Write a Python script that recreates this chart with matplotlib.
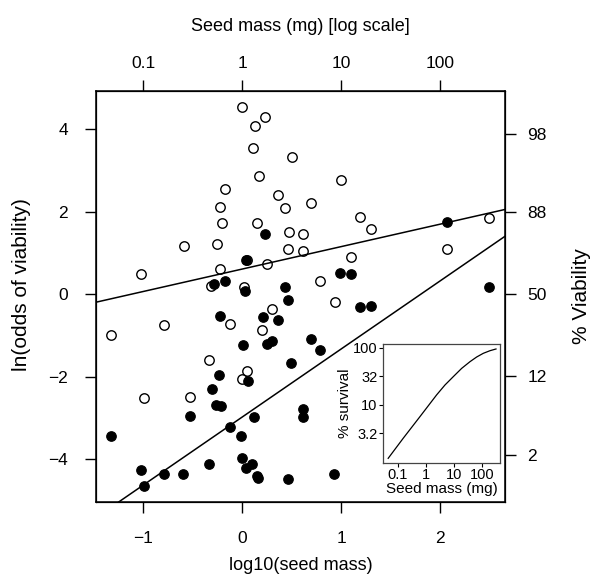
import numpy as np
import matplotlib
matplotlib.use("Agg")
import matplotlib.pyplot as plt

plt.rcParams['font.family'] = ['Liberation Sans', 'DejaVu Sans']

# ---- data ----
open_x = [-0.006, 0.23, 0.125, 0.105, 0.50, 0.17, -0.17, 0.36, -0.225, 0.43, 0.70, 1.00,
          -0.205, 0.155, -0.59, -0.25, 0.47, 0.62, 0.46, 0.62, 0.05, 0.25, -1.02, -0.22,
          -0.32, 0.017, 0.785, 0.94, 0.30, 1.196, 1.30, 2.50, 2.07, 1.10, -1.33, -0.79,
          -0.124, 0.20, -0.34, 0.044, -0.006, -0.996, -0.53]
open_y = [4.55, 4.29, 4.08, 3.55, 3.34, 2.87, 2.56, 2.41, 2.12, 2.09, 2.21, 2.78,
          1.72, 1.72, 1.18, 1.23, 1.50, 1.45, 1.09, 1.06, 0.83, 0.74, 0.48, 0.60,
          0.20, 0.17, 0.32, -0.20, -0.36, 1.87, 1.59, 1.85, 1.10, 0.90, -0.98, -0.74,
          -0.72, -0.86, -1.59, -1.87, -2.06, -2.51, -2.50]

filled_x = [0.035, 0.226, -0.28, -0.17, 0.024, 0.43, 0.46, 0.99, 1.10, 2.07, 2.50, 1.196,
            1.30, -0.225, 0.206, 0.364, 0.01, 0.25, 0.30, 0.70, 0.785, 0.49, -0.23, 0.058,
            -0.31, -0.26, -0.21, -0.53, 0.62, 0.62, 0.115, -0.124, -1.33, -0.016, -0.34,
            0.0, 0.037, 0.10, 0.145, 0.16, 0.465, 0.93, -1.02, -0.996, -0.79, -0.60]
filled_y = [0.82, 1.45, 0.24, 0.32, 0.07, 0.18, -0.14, 0.51, 0.49, 1.75, 0.18, -0.31,
            -0.28, -0.53, -0.56, -0.62, -1.23, -1.21, -1.13, -1.08, -1.35, -1.66, -1.95, -2.11,
            -2.31, -2.69, -2.71, -2.95, -2.79, -2.98, -2.99, -3.23, -3.44, -3.44, -4.12,
            -3.98, -4.22, -4.13, -4.40, -4.47, -4.48, -4.35, -4.27, -4.66, -4.35, -4.35]

# fitted lines: (intercept, slope)
open_line = (0.61, 0.544)
filled_line = (-2.98, 1.65)

# top axis (seed mass, mg) and right axis (% viability)
top_ticks_mg = [0.1, 1, 10, 100]
top_labels = ["0.1", "1", "10", "100"]
right_pct = [98, 88, 50, 12, 2]
right_labels = ["98", "88", "50", "12", "2"]

# inset curve: seed mass (mg) vs % survival
inset_mass = [0.0462, 0.158, 0.622, 2.44, 4.82, 9.53, 18.97, 37.4, 64.6, 111.2, 192.8, 314.8]
inset_surv = [1.17, 2.62, 6.25, 15.0, 22.3, 31.2, 43.6, 57.0, 68.8, 79.8, 88.7, 95.0]
inset_ticks_x = [0.1, 1, 10, 100]
inset_ticks_y = [3.2, 10, 32, 100]
inset_labels_y = ["3.2", "10", "32", "100"]

# ---- figure ----
fig = plt.figure(figsize=(5.97, 5.85), dpi=100)
ax = fig.add_axes([0.1608, 0.1419, 0.685, 0.7026])
xlim = (-1.478, 2.657)
ylim = (-5.04, 4.93)
ax.set_xlim(*xlim)
ax.set_ylim(*ylim)

ax.axline((0, open_line[0]), slope=open_line[1], color='black', lw=1.1, zorder=2)
ax.axline((0, filled_line[0]), slope=filled_line[1], color='black', lw=1.1, zorder=2)

ax.plot(filled_x, filled_y, 'o', ms=6.8, mfc='black', mec='black', mew=0.9, ls='none', zorder=3)
ax.plot(open_x, open_y, 'o', ms=6.8, mfc='none', mec='black', mew=1.0, ls='none', zorder=4)

ax.set_xticks([-1, 0, 1, 2])
ax.set_xticklabels(["\u22121", "0", "1", "2"])
ax.set_yticks([-4, -2, 0, 2, 4])
ax.set_yticklabels(["\u22124", "\u22122", "0", "2", "4"])
ax.tick_params(axis='x', direction='out', length=8, width=1, labelsize=12.5, pad=13)
ax.tick_params(axis='y', direction='out', length=8, width=1, labelsize=12.5, pad=12)
ax.set_xlabel("log10(seed mass)", fontsize=13, labelpad=8)
ax.set_ylabel("ln(odds of viability)", fontsize=15)
ax.yaxis.set_label_coords(-0.158, 0.528)
for s in ax.spines.values():
    s.set_linewidth(1.1)

# top axis
axt = ax.twiny()
axt.set_xlim(*xlim)
axt.set_xticks(np.log10(top_ticks_mg))
axt.set_xticklabels(top_labels)
axt.tick_params(direction='out', length=8, width=1, labelsize=12.5, pad=6.5)
axt.set_xlabel("Seed mass (mg) [log scale]", fontsize=13, labelpad=18)

# right axis
axr = ax.twinx()
axr.set_ylim(*ylim)
p = np.array(right_pct) / 100.0
axr.set_yticks(np.log(p / (1 - p)))
axr.set_yticklabels(right_labels)
axr.tick_params(direction='out', length=8, width=1, labelsize=12.5, pad=8)
axr.set_ylabel("% Viability", fontsize=15, labelpad=18)

# inset
axi = fig.add_axes([0.642, 0.2091, 0.1955, 0.2024])
axi.set_xscale('log')
axi.set_yscale('log')
axi.set_xlim(10 ** -1.51, 10 ** 2.64)
axi.set_ylim(10 ** -0.008, 10 ** 2.06)
axi.plot(inset_mass, inset_surv, color='black', lw=0.9)
axi.set_xticks(inset_ticks_x)
axi.set_xticklabels(["0.1", "1", "10", "100"])
axi.set_yticks(inset_ticks_y)
axi.set_yticklabels(inset_labels_y)
axi.minorticks_off()
axi.tick_params(direction='out', length=3, width=0.8, labelsize=10.5, pad=1)
axi.set_xlabel("Seed mass (mg)", fontsize=11, labelpad=0)
axi.set_ylabel("% survival", fontsize=11, labelpad=1)
for s in axi.spines.values():
    s.set_linewidth(0.9)
    s.set_color('#444444')

fig.savefig("out.png", dpi=100)
